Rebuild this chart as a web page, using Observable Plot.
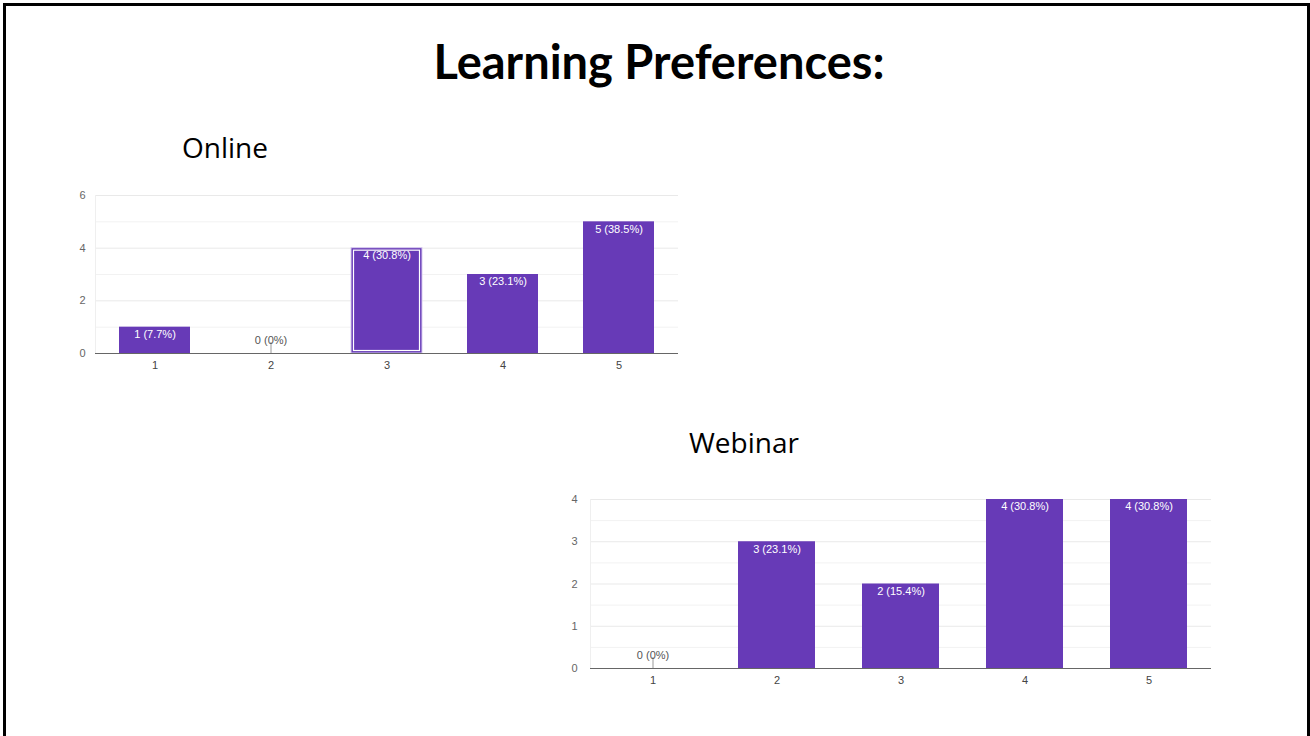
<!DOCTYPE html>
<html>
<head>
<meta charset="utf-8">
<script src="https://cdn.jsdelivr.net/npm/d3@7"></script>
<script src="https://cdn.jsdelivr.net/npm/@observablehq/plot@0.6"></script>
<style>
  html, body { margin: 0; padding: 0; background: white; }
  body { width: 1310px; height: 736px; position: relative; overflow: hidden; }
  #border { position: absolute; left: 3px; top: 3px; width: 1307px; height: 760px; box-sizing: border-box;
    border: 3px solid #000; border-bottom: none; }
  #title { position: absolute; left: 0; width: 1318px; top: 33px; text-align: center;
    font-family: Lato, "Open Sans", sans-serif; font-weight: bold; font-size: 47px; line-height: 56px; color: #000; }
  .sub { position: absolute; font-family: "Open Sans", Lato, sans-serif; font-size: 28px; line-height: 34px; color: #000; }
  #online-label { left: 182px; top: 130px; }
  #webinar-label { left: 689px; top: 425px; }
  .chart { position: absolute; }
  #online { left: 60px; top: 180px; }
  #webinar { left: 550px; top: 485px; }
</style>
</head>
<body>
<div id="border"></div>
<div id="title">Learning Preferences:</div>
<div class="sub" id="online-label">Online</div>
<div class="chart" id="online"></div>
<div class="sub" id="webinar-label">Webinar</div>
<div class="chart" id="webinar"></div>
<script>
// ---- data ----
const categories = ["1", "2", "3", "4", "5"];
const onlineValues = [1, 0, 4, 3, 5];
const onlinePercents = ["7.7%", "0%", "30.8%", "23.1%", "38.5%"];
const onlineYTicks = [0, 2, 4, 6];
const onlineMinorTicks = [1, 3, 5];
const onlineHighlight = "3";

const webinarValues = [0, 3, 2, 4, 4];
const webinarPercents = ["0%", "23.1%", "15.4%", "30.8%", "30.8%"];
const webinarYTicks = [0, 1, 2, 3, 4];
const webinarMinorTicks = [0.5, 1.5, 2.5, 3.5];
const webinarHighlight = null;

const barColor = "#673ab7";

function makeChart({values, percents, yTicks, minorTicks, highlight, width, height,
                    marginLeft, marginRight, marginTop, marginBottom, padding, yPad}) {
  const data = categories.map((c, i) => ({cat: c, value: values[i], label: `${values[i]} (${percents[i]})`}));
  const nonzero = data.filter(d => d.value > 0);
  const zeros = data.filter(d => d.value === 0);
  const hi = data.filter(d => d.cat === highlight);
  return Plot.plot({
    width, height, marginLeft, marginRight, marginTop, marginBottom,
    style: {fontFamily: "Arial, 'Liberation Sans', sans-serif", fontSize: "11px", background: "white", color: "#555"},
    x: {domain: categories, paddingInner: padding, paddingOuter: padding / 2, label: null},
    y: {domain: [0, d3.max(yTicks)], label: null},
    marks: [
      Plot.ruleY(minorTicks, {stroke: "#f2f2f2"}),
      Plot.ruleY(yTicks, {stroke: "#e9e9e9"}),
      Plot.frame({anchor: "left", stroke: "#efefef"}),
      Plot.barY(nonzero, {x: "cat", y: "value", fill: barColor}),
      Plot.barY(hi, {x: "cat", y: "value", fill: "none", stroke: "#d9ccf0", strokeWidth: 1}),
      Plot.barY(hi, {x: "cat", y: "value", fill: "none", stroke: "white", strokeWidth: 1.2, inset: 2.5}),
      Plot.ruleX(zeros, {x: "cat", y1: 0, y2: 0, insetTop: -11, stroke: "#999"}),
      Plot.ruleY([0], {stroke: "#666", strokeWidth: 1.2}),
      Plot.text(nonzero, {x: "cat", y: "value", text: "label", fill: "white", lineAnchor: "top", dy: 3}),
      Plot.text(zeros, {x: "cat", y: 0, text: "label", fill: "#555", lineAnchor: "bottom", dy: -10}),
      Plot.axisX({tickSize: 0, tickPadding: 8, fill: "#444"}),
      Plot.axisY({ticks: yTicks, tickFormat: d => String(d), tickSize: 0, tickPadding: yPad, fill: "#666"})
    ]
  });
}

document.getElementById("online").append(makeChart({
  values: onlineValues, percents: onlinePercents, yTicks: onlineYTicks, minorTicks: onlineMinorTicks,
  highlight: onlineHighlight, width: 630, height: 200,
  marginLeft: 35, marginRight: 12, marginTop: 15, marginBottom: 27, padding: 0.39, yPad: 10
}));

document.getElementById("webinar").append(makeChart({
  values: webinarValues, percents: webinarPercents, yTicks: webinarYTicks, minorTicks: webinarMinorTicks,
  highlight: webinarHighlight, width: 680, height: 210,
  marginLeft: 40, marginRight: 19, marginTop: 14, marginBottom: 27, padding: 0.38, yPad: 13
}));
</script>
</body>
</html>
